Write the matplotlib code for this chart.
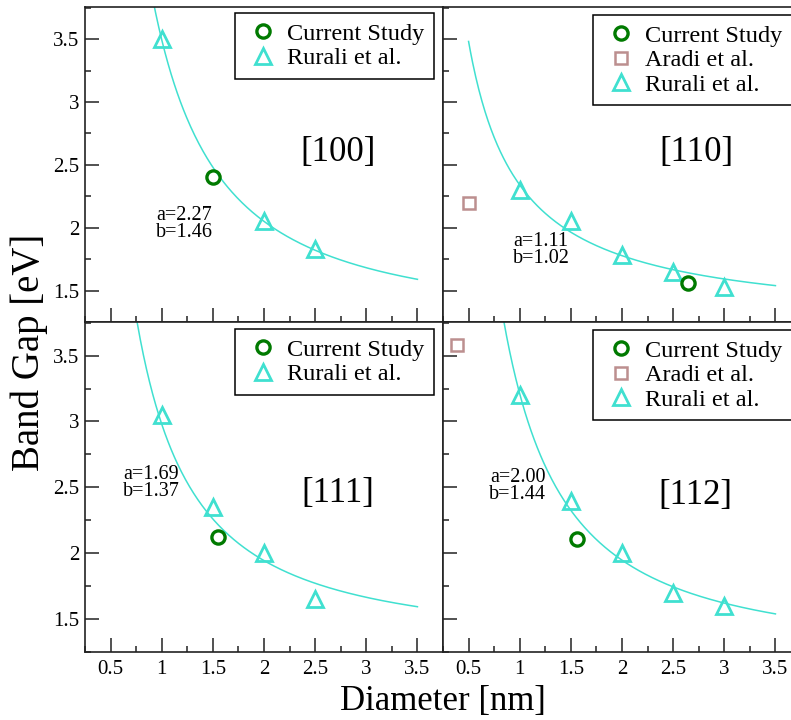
import numpy as np
import matplotlib.pyplot as plt
from matplotlib.ticker import MultipleLocator, FormatStrFormatter

plt.rcParams['font.family'] = ['Liberation Serif', 'DejaVu Serif']

# ---- data ----
panels = ['[100]', '[110]', '[111]', '[112]']

# fit parameters  Eg = e0 + a / d^b
fit_a = [2.27, 1.11, 1.69, 2.00]
fit_b = [1.46, 1.02, 1.37, 1.44]
fit_e0 = [1.225, 1.23, 1.29, 1.21]

# current study (circles)
cur_d_100, cur_eg_100 = [1.5], [2.40]
cur_d_110, cur_eg_110 = [2.65], [1.56]
cur_d_111, cur_eg_111 = [1.55], [2.12]
cur_d_112, cur_eg_112 = [1.56], [2.11]

# Aradi et al. (squares)
ara_d_110, ara_eg_110 = [0.5], [2.20]
ara_d_112, ara_eg_112 = [0.39], [3.58]

# Rurali et al. (triangles)
rur_d_100, rur_eg_100 = [1.0, 2.0, 2.5], [3.50, 2.05, 1.83]
rur_d_110, rur_eg_110 = [1.0, 1.5, 2.0, 2.5, 3.0], [2.30, 2.05, 1.78, 1.65, 1.53]
rur_d_111, rur_eg_111 = [1.0, 1.5, 2.0, 2.5], [3.05, 2.35, 2.00, 1.65]
rur_d_112, rur_eg_112 = [1.0, 1.5, 2.0, 2.5, 3.0], [3.20, 2.40, 2.00, 1.70, 1.60]

current = [(cur_d_100, cur_eg_100), (cur_d_110, cur_eg_110),
           (cur_d_111, cur_eg_111), (cur_d_112, cur_eg_112)]
aradi = [None, (ara_d_110, ara_eg_110), None, (ara_d_112, ara_eg_112)]
rurali = [(rur_d_100, rur_eg_100), (rur_d_110, rur_eg_110),
          (rur_d_111, rur_eg_111), (rur_d_112, rur_eg_112)]

# text positions (data coords)
ab_pos = [(1.22, 2.03), (1.21, 1.82), (0.90, 2.53), (0.98, 2.51)]
name_pos = [(2.72, 2.60), (2.73, 2.60), (2.72, 2.45), (2.72, 2.44)]

GREEN = '#007a00'
TURQ = '#40e0d0'
ROSY = '#bc8f8f'
SPINE = '#222222'

W, H = 791, 720
fig = plt.figure(figsize=(W / 100, H / 100), dpi=100)

# axes boxes in pixels: (x0, y0, x1, y1) from top-left
boxes = [(85, 7, 443, 322), (443, 7, 801, 322),
         (85, 322, 443, 652), (443, 322, 801, 652)]
legend_anchor = [(434, 13, 'upper right'), (593, 15, 'upper left'),
                 (434, 329, 'upper right'), (593, 330, 'upper left')]

d_fit = np.linspace(0.5, 3.5, 300)

for i, (x0, y0, x1, y1) in enumerate(boxes):
    ax = fig.add_axes([x0 / W, 1 - y1 / H, (x1 - x0) / W, (y1 - y0) / H])

    ax.plot(d_fit, fit_e0[i] + fit_a[i] / d_fit ** fit_b[i],
            color=TURQ, lw=1.1, zorder=2)

    cd, ce = current[i]
    ax.plot(cd, ce, 'o', ms=9.5, mfc='none', mec=GREEN, mew=2.4,
            label='Current Study', zorder=4)
    if aradi[i] is not None:
        ad, ae = aradi[i]
        ax.plot(ad, ae, 's', ms=9, mfc='none', mec=ROSY, mew=1.8,
                label='Aradi et al.', zorder=3)
    rd, re_ = rurali[i]
    ax.plot(rd, re_, '^', ms=11, mfc='none', mec=TURQ, mew=2.0,
            label='Rurali et al.', zorder=3)

    ax.set_xlim(0.25, 3.75)
    ax.set_ylim(1.25, 3.755)
    ax.xaxis.set_major_locator(MultipleLocator(0.5))
    ax.xaxis.set_minor_locator(MultipleLocator(0.25))
    ax.yaxis.set_major_locator(MultipleLocator(0.5))
    ax.yaxis.set_minor_locator(MultipleLocator(0.25))
    ax.xaxis.set_major_formatter(FormatStrFormatter('%g'))
    ax.yaxis.set_major_formatter(FormatStrFormatter('%g'))
    ax.tick_params(which='both', direction='in', top=False, right=False,
                   color=SPINE, width=1.1, labelsize=15)
    ax.tick_params(which='major', length=10, pad=4)
    ax.tick_params(which='minor', length=4)
    ax.tick_params(axis='x', pad=6)
    if i in (0, 1):
        ax.tick_params(axis='x', labelbottom=False)
    if i in (1, 3):
        ax.tick_params(axis='y', labelleft=False)
    for sp in ax.spines.values():
        sp.set_color(SPINE)
        sp.set_linewidth(1.2)

    ax.text(ab_pos[i][0], ab_pos[i][1],
            f'a={fit_a[i]:.2f}\nb={fit_b[i]:.2f}',
            ha='center', va='center', fontsize=14.5, linespacing=0.85)
    ax.text(name_pos[i][0], name_pos[i][1], panels[i],
            ha='center', va='center', fontsize=25)

    lx, ly, loc = legend_anchor[i]
    leg = ax.legend(loc=loc, bbox_to_anchor=(lx / W, 1 - ly / H),
                    bbox_transform=fig.transFigure, borderaxespad=0,
                    fontsize=17.5, frameon=True, fancybox=False,
                    framealpha=1, edgecolor='black', numpoints=1,
                    handlelength=1.5, handletextpad=0.25, borderpad=0.4,
                    labelspacing=0.1)
    leg.get_frame().set_linewidth(1.1)

fig.text(443 / W, (H - 710) / H, 'Diameter [nm]', ha='center',
         va='baseline', fontsize=25)
fig.text(29 / W, 1 - 352 / H, 'Band Gap [eV]', ha='center', va='center',
         rotation=90, fontsize=28)

fig.savefig('out.png', dpi=100)
